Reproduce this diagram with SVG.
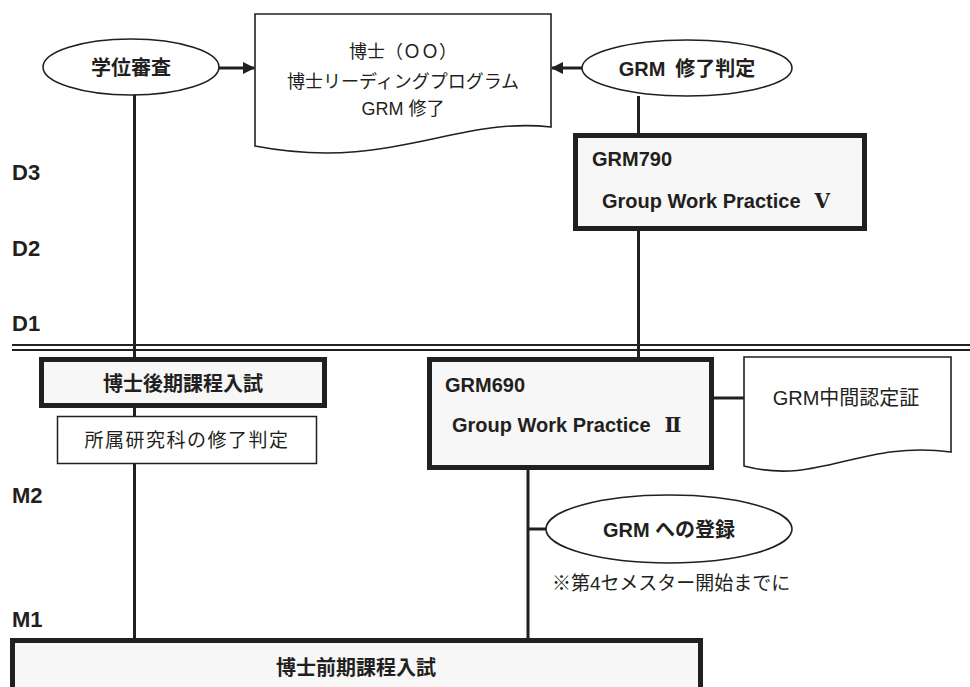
<svg xmlns="http://www.w3.org/2000/svg" width="970" height="687" viewBox="0 0 970 687">
<style>
  .bg{fill:#ffffff}
  .ln{stroke:#231f20;stroke-width:3;fill:none}
  .dbl{stroke:#231f20;stroke-width:2;fill:none}
  .ell{fill:#ffffff;stroke:#231f20;stroke-width:1.6}
  .doc{fill:#ffffff;stroke:#231f20;stroke-width:1.6}
  .box{fill:#f7f7f7;stroke:#231f20;stroke-width:5}
  .thin{fill:#ffffff;stroke:#231f20;stroke-width:1.5}
  text{fill:#231f20;font-family:"Liberation Sans","Noto Sans CJK JP",sans-serif}
  .b{font-weight:bold}
  .lbl{font-size:22px;font-weight:bold}
  .c{text-anchor:middle}
  .rn{font-family:"DejaVu Serif","Liberation Serif",serif;font-weight:bold}
</style>
<defs>
  <marker id="ah" markerWidth="12" markerHeight="12" refX="11" refY="6" orient="auto" markerUnits="userSpaceOnUse">
    <path d="M0,0 L12,6 L0,12 Z" fill="#231f20"/>
  </marker>
</defs>
<rect class="bg" x="0" y="0" width="970" height="687"/>

<g id="labels">
  <text class="lbl" x="12" y="180">D3</text>
  <text class="lbl" x="12" y="256">D2</text>
  <text class="lbl" x="12" y="331">D1</text>
  <text class="lbl" x="12" y="503">M2</text>
  <text class="lbl" x="12" y="627">M1</text>
</g>

<g id="connectors">
  <line class="dbl" x1="12" y1="345" x2="970" y2="345"/>
  <line class="dbl" x1="12" y1="350" x2="970" y2="350"/>
  <line class="ln" x1="134.5" y1="95" x2="134.5" y2="358"/>
  <line class="ln" x1="134.5" y1="407" x2="134.5" y2="417"/>
  <line class="ln" x1="134.5" y1="463" x2="134.5" y2="639"/>
  <line class="ln" x1="638.5" y1="96" x2="638.5" y2="134"/>
  <line class="ln" x1="638.5" y1="230" x2="638.5" y2="358"/>
  <line class="ln" x1="528" y1="469" x2="528" y2="639"/>
  <line class="ln" x1="528" y1="529" x2="547" y2="529"/>
  <line class="ln" x1="713" y1="398" x2="744" y2="398"/>
  <line class="ln" x1="219" y1="68" x2="254" y2="68" marker-end="url(#ah)"/>
  <line class="ln" x1="582" y1="68" x2="552" y2="68" marker-end="url(#ah)"/>
</g>

<g id="n-gakui">
  <ellipse class="ell" cx="131" cy="67" rx="88" ry="28"/>
  <text class="b c" x="131" y="75" font-size="20">学位審査</text>
</g>

<g id="n-doc1">
  <path class="doc" d="M255,14 H551 V127 C455,116 390,172 255,146 Z"/>
  <text class="c" x="403" y="58" font-size="18">博士（ＯＯ）</text>
  <text class="c" x="403" y="88" font-size="18">博士リーディングプログラム</text>
  <text class="c" x="403" y="115" font-size="18">GRM 修了</text>
</g>

<g id="n-grm-hantei">
  <ellipse class="ell" cx="687" cy="68" rx="105" ry="28"/>
  <text class="b c" x="687" y="76" font-size="20">GRM<tspan dx="10">修了判定</tspan></text>
</g>

<g id="n-grm790">
  <rect class="box" x="575.5" y="135.5" width="289" height="93"/>
  <text class="b" x="592" y="166" font-size="20">GRM790</text>
  <text class="b" x="602" y="208" font-size="20">Group Work Practice<tspan class="rn" dx="14">Ⅴ</tspan></text>
</g>

<g id="n-kouki">
  <rect class="box" x="41.5" y="359.5" width="283" height="46"/>
  <text class="b c" x="183" y="391" font-size="20">博士後期課程入試</text>
</g>

<g id="n-shozoku">
  <rect class="thin" x="57.5" y="416.5" width="259" height="47"/>
  <text class="c" x="187" y="447" font-size="19" letter-spacing="1.5">所属研究科の修了判定</text>
</g>

<g id="n-grm690">
  <rect class="box" x="429.5" y="359.5" width="282" height="108"/>
  <text class="b" x="445" y="392" font-size="20">GRM690</text>
  <text class="b" x="452" y="432" font-size="20">Group Work Practice<tspan class="rn" dx="14">Ⅱ</tspan></text>
</g>

<g id="n-doc2">
  <path class="doc" d="M744,357 H951 V452 C860,440 820,486 744,466 Z"/>
  <text class="c" x="846" y="405" font-size="20">GRM中間認定証</text>
</g>

<g id="n-touroku">
  <ellipse class="ell" cx="669" cy="529" rx="123" ry="34"/>
  <text class="b c" x="669" y="537" font-size="20">GRM への登録</text>
  <text x="552" y="590" font-size="19">※第4セメスター開始までに</text>
</g>

<g id="n-zenki">
  <rect class="box" x="12.5" y="640.5" width="688" height="60"/>
  <text class="b c" x="356" y="675" font-size="20">博士前期課程入試</text>
</g>
</svg>
